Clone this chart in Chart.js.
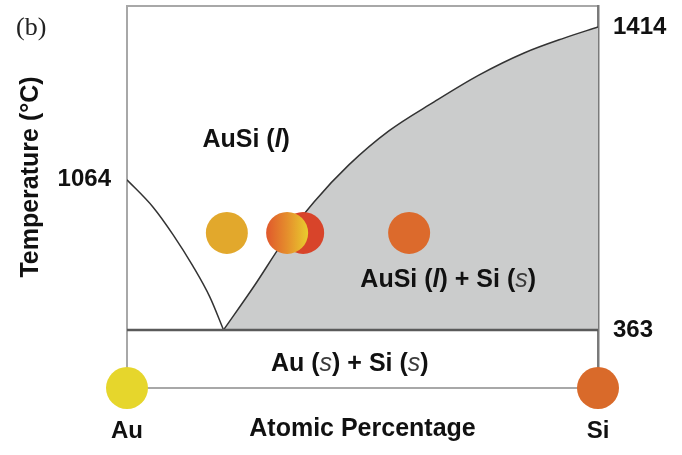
<!DOCTYPE html>
<html>
<head>
<meta charset="utf-8">
<script src="https://cdn.jsdelivr.net/npm/chart.js@4"></script>
<style>
  body { margin: 0; background: #fff; }
  #wrap { width: 682px; height: 455px; }
</style>
</head>
<body>
<div id="wrap"><canvas id="diagrama"></canvas></div>
<script>
// schematic diagram: x = atomic % Si, y = schematic height (not to scale)
const tempLevels = [15.2, 54.5, 94.5];
const tempLabels = ["363", "1064", "1414"];
const compTicks = [0, 100];
const compLabels = ["Au", "Si"];

// liquidus lines
const leftLiqX = [0, 5.5, 9.8, 14.0, 17.6, 20.5];
const leftLiqY = [54.5, 47.4, 40.1, 31.9, 23.8, 15.2];
const rightLiqX = [20.5, 27.0, 33.3, 39.7, 47.1, 55.6, 65.2, 74.7, 84.3, 92.8, 100];
const rightLiqY = [15.2, 26.7, 38.5, 48.7, 58.4, 67.3, 74.9, 81.9, 87.7, 91.6, 94.5];

// droplets
const sampleX = [37.4, 21.2, 34.0, 59.9];
const sampleY = [40.6, 40.6, 40.6, 40.6];
const sampleColor = ["#d8442a", "#e2a82c", "gradient", "#dc6a2c"];
const pureX = [0, 100];
const pureY = [0, 0];
const pureColor = ["#e6d62c", "#d96a2a"];

// phase labels: [text, style] pieces
const phaseNames = [
  [["AuSi (", "b"], ["l", "bi"], [")", "b"]],
  [["AuSi (", "b"], ["l", "bi"], [") + Si (", "b"], ["s", "i"], [")", "b"]],
  [["Au (", "b"], ["s", "i"], [") + Si (", "b"], ["s", "i"], [")", "b"]],
];
const phaseX = [25.3, 68.2, 47.3];
const phaseY = [64.9, 28.3, 6.3];

const pts = (xs, ys) => xs.map((x, i) => ({ x: x, y: ys[i] }));
const FONT = "'Liberation Sans', Arial, sans-serif";

const textos = {
  id: "textos",
  afterDatasetsDraw(chart) {
    const ctx = chart.ctx;
    const sx = chart.scales.x;
    const sy = chart.scales.y;
    const fontes = {
      b: "bold 25px " + FONT,
      bi: "italic bold 25px " + FONT,
      i: "italic 25px " + FONT,
    };
    ctx.save();
    ctx.textBaseline = "middle";
    ctx.textAlign = "left";
    phaseNames.forEach((partes, k) => {
      let largura = 0;
      partes.forEach((p) => {
        ctx.font = fontes[p[1]];
        largura += ctx.measureText(p[0]).width;
      });
      let x = sx.getPixelForValue(phaseX[k]) - largura / 2;
      const y = sy.getPixelForValue(phaseY[k]);
      partes.forEach((p) => {
        ctx.font = fontes[p[1]];
        ctx.fillStyle = p[1] === "i" ? "#3a3a3a" : "#111";
        ctx.fillText(p[0], x, y);
        x += ctx.measureText(p[0]).width;
      });
    });

    // titulo do eixo Y
    ctx.save();
    ctx.translate(31, 177);
    ctx.rotate(-Math.PI / 2);
    ctx.textAlign = "center";
    ctx.font = "bold 25px " + FONT;
    ctx.fillStyle = "#111";
    ctx.fillText("Temperature (\u00B0C)", 0, 0);
    ctx.restore();

    // (b)
    ctx.font = "26px 'Liberation Serif', serif";
    ctx.fillStyle = "#222";
    ctx.fillText("(b)", 16, 28);
    ctx.restore();
  },
};

function corAmostra(c) {
  const cor = sampleColor[c.dataIndex];
  if (cor !== "gradient") return cor;
  const sx = c.chart.scales.x;
  const px = sx ? sx.getPixelForValue(sampleX[c.dataIndex]) : NaN;
  if (!isFinite(px)) return "#e58a2c";
  const g = c.chart.ctx.createLinearGradient(px - 21, 0, px + 21, 0);
  g.addColorStop(0, "#e0582c");
  g.addColorStop(0.5, "#e58e2c");
  g.addColorStop(1, "#e9cc2e");
  return g;
}

// sem folga extra para os rotulos nas bordas
const semFolga = (a) => {
  a.paddingTop = 0;
  a.paddingBottom = 0;
  a.paddingLeft = 0;
  a.paddingRight = 0;
};

new Chart(document.getElementById("diagrama"), {
  type: "scatter",
  data: {
    datasets: [
      {
        label: "Au / Si",
        data: pts(pureX, pureY),
        backgroundColor: pureColor,
        pointRadius: 21,
        pointHoverRadius: 21,
        borderWidth: 0,
        clip: false,
      },
      {
        label: "amostras",
        data: pts(sampleX, sampleY),
        backgroundColor: corAmostra,
        pointRadius: 21,
        pointHoverRadius: 21,
        borderWidth: 0,
        clip: false,
      },
      {
        label: "eutetico",
        data: pts([0, 100], [tempLevels[0], tempLevels[0]]),
        showLine: true,
        borderColor: "#5a5a5a",
        borderWidth: 2.5,
        pointRadius: 0,
      },
      {
        label: "liquidus Au",
        data: pts(leftLiqX, leftLiqY),
        showLine: true,
        borderColor: "#333",
        borderWidth: 1.5,
        pointRadius: 0,
        cubicInterpolationMode: "monotone",
      },
      {
        label: "liquidus Si",
        data: pts(rightLiqX, rightLiqY),
        showLine: true,
        borderColor: "#333",
        borderWidth: 1.5,
        pointRadius: 0,
        cubicInterpolationMode: "monotone",
        fill: { value: tempLevels[0] },
        backgroundColor: "#cbcccc",
      },
    ],
  },
  options: {
    responsive: true,
    maintainAspectRatio: false,
    animation: false,
    events: [],
    layout: { autoPadding: false, padding: { top: 6, left: 0, right: 0, bottom: 0 } },
    plugins: { legend: { display: false }, tooltip: { enabled: false } },
    scales: {
      x: {
        type: "linear",
        min: 0,
        max: 100,
        grid: { display: false },
        border: { display: true, color: "#a8a8a8", width: 2 },
        afterBuildTicks: (a) => { a.ticks = compTicks.map((v) => ({ value: v })); },
        afterFit: (a) => { a.height = 67; semFolga(a); },
        ticks: {
          padding: 21,
          color: "#111",
          font: { family: FONT, size: 24, weight: "bold" },
          maxRotation: 0,
          autoSkip: false,
          callback: (v) => compLabels[compTicks.indexOf(v)],
        },
        title: {
          display: true,
          text: "Atomic Percentage",
          color: "#111",
          font: { family: FONT, size: 25, weight: "bold" },
          padding: { top: 0, bottom: 11 },
        },
      },
      x2: {
        type: "linear",
        position: "top",
        min: 0,
        max: 100,
        grid: { display: false },
        ticks: { display: false },
        border: { display: true, color: "#a8a8a8", width: 2 },
        afterFit: (a) => { a.height = 0; semFolga(a); },
      },
      y: {
        type: "linear",
        min: 0,
        max: 100,
        grid: { display: false },
        border: { display: true, color: "#a8a8a8", width: 2 },
        afterBuildTicks: (a) => { a.ticks = [{ value: tempLevels[1] }]; },
        afterFit: (a) => { a.width = 127; semFolga(a); },
        ticks: {
          padding: 8,
          color: "#111",
          font: { family: FONT, size: 24, weight: "bold" },
          autoSkip: false,
          callback: (v) => tempLabels[tempLevels.indexOf(v)],
        },
      },
      y2: {
        type: "linear",
        position: "right",
        min: 0,
        max: 100,
        grid: { display: false },
        border: { display: true, color: "#7a7a7a", width: 2.5 },
        afterBuildTicks: (a) => { a.ticks = [{ value: tempLevels[0] }, { value: tempLevels[2] }]; },
        afterFit: (a) => { a.width = 84; semFolga(a); },
        ticks: {
          padding: 7,
          color: "#111",
          font: { family: FONT, size: 24, weight: "bold" },
          autoSkip: false,
          callback: (v) => tempLabels[tempLevels.indexOf(v)],
        },
      },
    },
  },
  plugins: [textos],
});
</script>
</body>
</html>
